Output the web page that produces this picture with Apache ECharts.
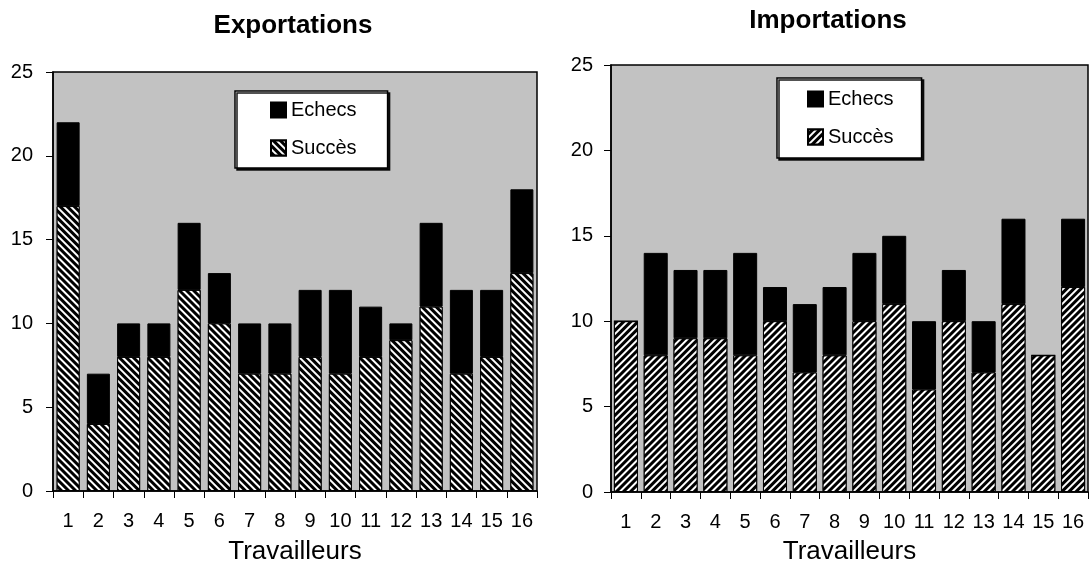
<!DOCTYPE html>
<html><head><meta charset="utf-8">
<script src="https://cdn.jsdelivr.net/npm/echarts@6/dist/echarts.min.js"></script>
<style>html,body{margin:0;padding:0;background:#fff}#c{width:1091px;height:570px}</style>
</head><body><div id="c"></div>
<script>
const categories = ['1','2','3','4','5','6','7','8','9','10','11','12','13','14','15','16'];
const exportSucces = [17, 4, 8, 8, 12, 10, 7, 7, 8, 7, 8, 9, 11, 7, 8, 13];
const exportEchecs = [5, 3, 2, 2, 4, 3, 3, 3, 4, 5, 3, 1, 5, 5, 4, 5];
const importSucces = [10, 8, 9, 9, 8, 10, 7, 8, 10, 11, 6, 10, 7, 11, 8, 12];
const importEchecs = [0, 6, 4, 4, 6, 2, 4, 4, 4, 4, 4, 3, 3, 5, 0, 4];
const titles = ['Exportations', 'Importations'];
const xAxisName = 'Travailleurs';
const legendNames = ['Echecs', 'Succès'];

const FONT = "'Liberation Sans', Arial, Helvetica, sans-serif";
const chart = echarts.init(document.getElementById('c'), null, {renderer: 'canvas'});

function xAxis(gridIndex, gap) {
  return {
    type: 'category', gridIndex, data: categories, boundaryGap: true,
    name: xAxisName, nameLocation: 'middle', nameGap: gap,
    nameTextStyle: {fontFamily: FONT, fontSize: 26, color: '#000'},
    axisLine: {show: true, lineStyle: {color: '#000', width: 1.5}},
    axisTick: {show: true, inside: false, length: 7, lineStyle: {color: '#000', width: 1}},
    axisLabel: {fontFamily: FONT, fontSize: 20, color: '#000', margin: 20, interval: 0},
    splitLine: {show: false}
  };
}
function yAxis(gridIndex, margin) {
  return {
    type: 'value', gridIndex, min: 0, max: 25, interval: 5,
    axisLine: {show: true, lineStyle: {color: '#000', width: 1.5}},
    axisTick: {show: true, inside: false, length: 7, lineStyle: {color: '#000', width: 1}},
    axisLabel: {fontFamily: FONT, fontSize: 20, color: '#000', margin: margin},
    splitLine: {show: false}
  };
}
function hatch(rot) {
  return {symbol: 'rect', symbolSize: 1, color: '#ffffff', dashArrayX: [1, 0], dashArrayY: [1.3, 2.1], rotation: rot};
}

const option = {
  animation: false,
  backgroundColor: '#ffffff',
  graphic: [
    {type: 'text', x: 293, y: 26, style: {text: titles[0], align: 'center', verticalAlign: 'middle', font: "bold 26px " + FONT, fill: '#000'}},
    {type: 'text', x: 828, y: 21, style: {text: titles[1], align: 'center', verticalAlign: 'middle', font: "bold 26px " + FONT, fill: '#000'}}
  ],
  grid: [
    {left: 53, top: 72, width: 484, height: 420, show: true, backgroundColor: '#c2c2c2', borderColor: '#000', borderWidth: 1.5, containLabel: false},
    {left: 611, top: 65, width: 477, height: 433, show: true, backgroundColor: '#c2c2c2', borderColor: '#000', borderWidth: 1.5, containLabel: false}
  ],
  legend: [
    {
      data: legendNames, orient: 'vertical', left: 235, top: 91, icon: 'rect',
      padding: [9, 31, 10, 35], itemGap: 18, itemWidth: 15, itemHeight: 15,
      backgroundColor: '#fff', borderColor: '#000', borderWidth: 1.5,
      shadowColor: 'rgba(0,0,0,0.9)', shadowOffsetX: 2, shadowOffsetY: 2, shadowBlur: 0,
      textStyle: {fontFamily: FONT, fontSize: 20, color: '#000', lineHeight: 20},
      selectedMode: false
    },
    {
      data: legendNames.map(n => n + ' '), orient: 'vertical', left: 777, top: 78, icon: 'rect',
      padding: [11, 28, 11, 30], itemGap: 18, itemWidth: 15, itemHeight: 15,
      backgroundColor: '#fff', borderColor: '#000', borderWidth: 1.5,
      shadowColor: 'rgba(0,0,0,0.9)', shadowOffsetX: 2, shadowOffsetY: 2, shadowBlur: 0,
      textStyle: {fontFamily: FONT, fontSize: 20, color: '#000', lineHeight: 20},
      formatter: n => n.trim(),
      selectedMode: false
    }
  ],
  xAxis: [xAxis(0, 48), xAxis(1, 47)],
  yAxis: [yAxis(0, 20), yAxis(1, 18)],
  series: [
    {name: legendNames[1], type: 'bar', stack: 'e', xAxisIndex: 0, yAxisIndex: 0, data: exportSucces, barWidth: 23,
     itemStyle: {color: '#000', borderColor: '#000', borderWidth: 1, decal: hatch(Math.PI / 4)}},
    {name: legendNames[0], type: 'bar', stack: 'e', xAxisIndex: 0, yAxisIndex: 0, data: exportEchecs, barWidth: 23,
     itemStyle: {color: '#000', borderColor: '#000', borderWidth: 1}},
    {name: legendNames[1] + ' ', type: 'bar', stack: 'i', xAxisIndex: 1, yAxisIndex: 1, data: importSucces, barWidth: 24,
     itemStyle: {color: '#000', borderColor: '#000', borderWidth: 1, decal: hatch(-Math.PI / 4)}},
    {name: legendNames[0] + ' ', type: 'bar', stack: 'i', xAxisIndex: 1, yAxisIndex: 1, data: importEchecs, barWidth: 24,
     itemStyle: {color: '#000', borderColor: '#000', borderWidth: 1}}
  ]
};
chart.setOption(option);
</script>
</body></html>
